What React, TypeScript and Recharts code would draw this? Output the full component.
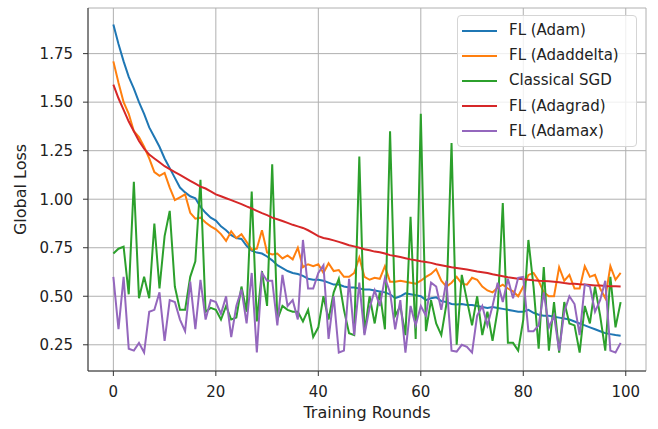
import { CartesianGrid, Label, Legend, Line, LineChart, XAxis, YAxis } from "recharts";

const FONT = "'DejaVu Sans', sans-serif";

const rounds = Array.from({ length: 100 }, (_, i) => i);

const flAdam = [
  1.90, 1.80, 1.71, 1.63, 1.57, 1.50, 1.44, 1.37, 1.32, 1.27,
  1.21, 1.16, 1.11, 1.06, 1.035, 1.015, 1.005, 0.96, 0.93, 0.905,
  0.89, 0.86, 0.84, 0.815, 0.80, 0.795, 0.76, 0.735, 0.725, 0.72,
  0.705, 0.685, 0.66, 0.645, 0.63, 0.62, 0.615, 0.605, 0.59, 0.585,
  0.585, 0.58, 0.57, 0.56, 0.56, 0.55, 0.545, 0.545, 0.54, 0.535,
  0.535, 0.53, 0.525, 0.52, 0.51, 0.49, 0.50, 0.515, 0.51, 0.505,
  0.50, 0.48, 0.49, 0.495, 0.475, 0.47, 0.46, 0.458, 0.46, 0.455,
  0.455, 0.45, 0.445, 0.44, 0.445, 0.44, 0.435, 0.43, 0.425, 0.42,
  0.42, 0.43, 0.415, 0.405, 0.40, 0.40, 0.395, 0.39, 0.385, 0.38,
  0.37, 0.36, 0.35, 0.34, 0.33, 0.32, 0.31, 0.305, 0.30, 0.297,
];

const flAdadelta = [
  1.71, 1.60, 1.50, 1.44, 1.35, 1.32, 1.27, 1.21, 1.14, 1.12,
  1.135, 1.06, 0.995, 1.01, 1.025, 0.93, 0.90, 0.905, 0.88, 0.86,
  0.845, 0.82, 0.785, 0.835, 0.80, 0.82, 0.78, 0.74, 0.745, 0.84,
  0.725, 0.715, 0.72, 0.695, 0.71, 0.69, 0.75, 0.65, 0.665, 0.655,
  0.665, 0.62, 0.67, 0.63, 0.635, 0.60, 0.60, 0.62, 0.70, 0.60,
  0.585, 0.595, 0.59, 0.655, 0.575, 0.575, 0.58, 0.575, 0.57, 0.565,
  0.58, 0.60, 0.615, 0.64, 0.58, 0.55, 0.57, 0.60, 0.565, 0.56,
  0.595, 0.585, 0.55, 0.53, 0.52, 0.545, 0.56, 0.54, 0.525, 0.50,
  0.55, 0.61, 0.62, 0.58, 0.52, 0.50, 0.50, 0.65, 0.58, 0.61,
  0.54, 0.54, 0.655, 0.60, 0.61, 0.54, 0.49, 0.655, 0.585, 0.62,
];

const classicalSgd = [
  0.72, 0.745, 0.755, 0.51, 1.09, 0.49, 0.60, 0.49, 0.875, 0.54,
  0.81, 0.94, 0.55, 0.43, 0.43, 0.60, 0.68, 1.10, 0.42, 0.44,
  0.43, 0.38, 0.45, 0.38, 0.39, 0.55, 0.42, 1.04, 0.37, 0.63,
  0.45, 1.18, 0.38, 0.45, 0.43, 0.42, 0.42, 0.37, 0.43, 0.29,
  0.34, 0.50, 0.38, 0.52, 0.59, 0.43, 0.31, 0.30, 1.22, 0.31,
  0.50, 0.36, 0.52, 0.33, 1.35, 0.40, 0.45, 0.30, 0.91, 0.28,
  1.44, 0.32, 0.48, 0.36, 0.30, 0.46, 1.29, 0.25, 0.61, 0.48,
  0.35, 0.50, 0.30, 0.42, 0.27, 0.43, 0.98, 0.26, 0.26, 0.22,
  0.38, 0.79, 0.55, 0.23, 0.65, 0.22, 0.47, 0.21, 0.47, 0.36,
  0.35, 0.21, 0.45, 0.36, 0.55, 0.40, 0.22, 0.60, 0.34, 0.47,
];

const flAdagrad = [
  1.59, 1.52, 1.46, 1.40, 1.35, 1.30, 1.26, 1.23, 1.21, 1.19,
  1.17, 1.155, 1.14, 1.125, 1.11, 1.095, 1.08, 1.065, 1.055, 1.04,
  1.025, 1.015, 1.005, 0.995, 0.985, 0.975, 0.963, 0.952, 0.94, 0.928,
  0.918, 0.905, 0.897, 0.888, 0.878, 0.868, 0.86, 0.852, 0.84, 0.825,
  0.81, 0.80, 0.795, 0.788, 0.78, 0.772, 0.763, 0.757, 0.75, 0.742,
  0.737, 0.73, 0.727, 0.72, 0.712, 0.707, 0.702, 0.696, 0.69, 0.686,
  0.68, 0.676, 0.672, 0.665, 0.66, 0.655, 0.65, 0.646, 0.642, 0.638,
  0.633, 0.628, 0.624, 0.62, 0.613, 0.608, 0.603, 0.598, 0.594, 0.59,
  0.588, 0.585, 0.582, 0.58, 0.578, 0.577, 0.575, 0.572, 0.568, 0.565,
  0.565, 0.562, 0.56, 0.558, 0.556, 0.555, 0.553, 0.552, 0.551, 0.55,
];

const flAdamax = [
  0.60, 0.33, 0.60, 0.23, 0.22, 0.26, 0.21, 0.42, 0.43, 0.52,
  0.27, 0.48, 0.47, 0.38, 0.32, 0.575, 0.33, 0.585, 0.38, 0.48,
  0.47, 0.41, 0.50, 0.29, 0.45, 0.535, 0.36, 0.62, 0.21, 0.62,
  0.58, 0.58, 0.35, 0.61, 0.45, 0.48, 0.38, 0.79, 0.54, 0.54,
  0.62, 0.66, 0.28, 0.50, 0.21, 0.22, 0.59, 0.30, 0.57, 0.30,
  0.44, 0.53, 0.45, 0.595, 0.52, 0.33, 0.48, 0.21, 0.45, 0.35,
  0.45, 0.40, 0.57, 0.55, 0.43, 0.58, 0.22, 0.215, 0.25, 0.24,
  0.21, 0.40, 0.45, 0.35, 0.45, 0.57, 0.47, 0.59, 0.49, 0.595,
  0.60, 0.32, 0.32, 0.35, 0.52, 0.34, 0.40, 0.22, 0.42, 0.50,
  0.46, 0.30, 0.56, 0.55, 0.42, 0.48, 0.58, 0.22, 0.21, 0.26,
];

const xTicks = [0, 20, 40, 60, 80, 100];
const yTicks = [0.25, 0.5, 0.75, 1.0, 1.25, 1.5, 1.75];

const series = [
  { key: "adam", name: "FL (Adam)", color: "#1f77b4" },
  { key: "adadelta", name: "FL (Adaddelta)", color: "#ff7f0e" },
  { key: "sgd", name: "Classical SGD", color: "#2ca02c" },
  { key: "adagrad", name: "FL (Adagrad)", color: "#d62728" },
  { key: "adamax", name: "FL (Adamax)", color: "#9467bd" },
];

const data = rounds.map((r, i) => ({
  round: r,
  adam: flAdam[i],
  adadelta: flAdadelta[i],
  sgd: classicalSgd[i],
  adagrad: flAdagrad[i],
  adamax: flAdamax[i],
}));

const tickStyle = { fontSize: 15, fill: "#222", fontFamily: FONT };

// keep the legend in plotting order (recharts sorts it by name otherwise)
function LegendBox({ payload }: any) {
  const order = series.map((s) => s.name);
  const items = [...(payload || [])].sort((a: any, b: any) => order.indexOf(a.value) - order.indexOf(b.value));
  return (
    <div
      style={{
        width: 180,
        boxSizing: "border-box",
        border: "1px solid #d5d5d5",
        borderRadius: 4,
        background: "rgba(255,255,255,0.8)",
        padding: "2px 0",
      }}
    >
      {items.map((p: any) => (
        <div key={p.value} style={{ display: "flex", alignItems: "center", height: 25.2 }}>
          <span style={{ display: "inline-block", width: 35, height: 2, background: p.color, marginLeft: 4, marginRight: 12 }} />
          <span style={{ fontSize: 15, color: "#222", fontFamily: FONT, lineHeight: 1, whiteSpace: "nowrap" }}>{p.value}</span>
        </div>
      ))}
    </div>
  );
}

export default function App() {
  return (
    <div style={{ position: "absolute", left: 0, top: 0 }}>
      <LineChart width={658} height={429} data={data} margin={{ top: 8, right: 12, left: 0, bottom: 0 }}>
        <CartesianGrid stroke="#b0b0b0" strokeWidth={1} />
        <XAxis
          dataKey="round"
          type="number"
          domain={[-4.95, 103.95]}
          ticks={xTicks}
          allowDataOverflow
          height={58}
          tickSize={5}
          tickMargin={10}
          tick={tickStyle}
          stroke="#333"
          tickLine={{ stroke: "#333" }}
        >
          <Label value="Training Rounds" position="insideBottom" offset={11} style={{ fontSize: 16, fill: "#222", fontFamily: FONT }} />
        </XAxis>
        <YAxis
          type="number"
          domain={[0.115, 1.985]}
          ticks={yTicks}
          allowDataOverflow
          width={88}
          tickSize={5}
          tickMargin={10}
          tick={tickStyle}
          tickFormatter={(v: number) => v.toFixed(2)}
          stroke="#333"
        >
          <Label
            content={({ viewBox }: any) => {
              const cx = viewBox.x + 20;
              const cy = viewBox.y + viewBox.height / 2;
              return (
                <text
                  x={cx}
                  y={cy}
                  transform={`rotate(-90, ${cx}, ${cy})`}
                  textAnchor="middle"
                  dominantBaseline="central"
                  style={{ fontSize: 16, fill: "#222", fontFamily: FONT }}
                >
                  Global Loss
                </text>
              );
            }}
          />
        </YAxis>
        <XAxis xAxisId="top" orientation="top" type="number" dataKey="round" domain={[-4.95, 103.95]} allowDataOverflow height={0} tick={false} tickLine={false} stroke="#333" />
        <YAxis yAxisId="right" orientation="right" type="number" domain={[0.115, 1.985]} allowDataOverflow width={0} tick={false} tickLine={false} stroke="#333" />
        <Legend
          layout="vertical"
          align="center"
          verticalAlign="middle"
          content={<LegendBox />}
          wrapperStyle={{ left: 457, top: 15, width: 180, right: "auto", bottom: "auto" }}
        />
        {series.map((s) => (
          <Line
            key={s.key}
            type="linear"
            dataKey={s.key}
            name={s.name}
            stroke={s.color}
            strokeWidth={2}
            dot={false}
            activeDot={false}
            isAnimationActive={false}
          />
        ))}
      </LineChart>
    </div>
  );
}
